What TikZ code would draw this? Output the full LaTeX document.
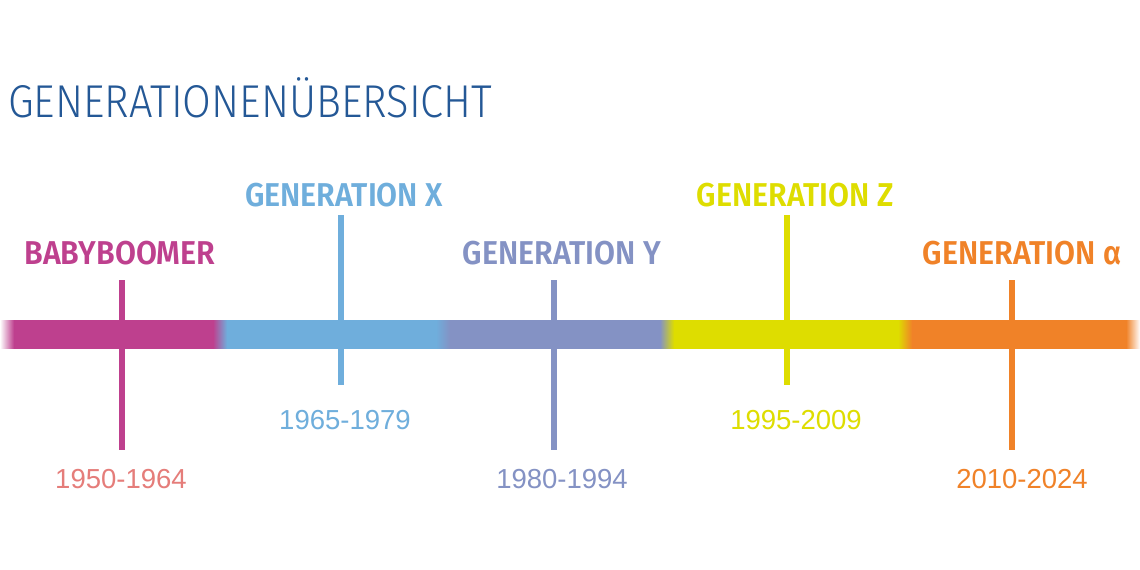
\documentclass[tikz,border=0pt]{standalone}
\usepackage{fontspec}
\setmainfont{Liberation Sans}
\newfontfamily\headfont[FakeStretch=0.92]{Fira Sans SemiBold}
\newfontfamily\titlefont[FakeStretch=0.905]{Fira Sans Light}

\definecolor{titleblue}{HTML}{245896}
\definecolor{boomer}{HTML}{BE408E}
\definecolor{genx}{HTML}{6FAEDC}
\definecolor{geny}{HTML}{8492C4}
\definecolor{genz}{HTML}{DEDD00}
\definecolor{gena}{HTML}{F08228}
\definecolor{salmon}{HTML}{E57D7A}

% bar shading: x in 0..1140 maps to 25..75bp
\pgfdeclarehorizontalshading{timebar}{100bp}{
	color(0bp)=(white); color(25bp)=(white);
	color(25.614bp)=(boomer); color(34.342bp)=(boomer);
	color(34.956bp)=(genx); color(44.123bp)=(genx);
	color(44.737bp)=(geny); color(53.947bp)=(geny);
	color(54.561bp)=(genz); color(64.386bp)=(genz);
	color(65bp)=(gena); color(74.386bp)=(gena);
	color(75bp)=(white); color(100bp)=(white)}

\tikzset{
	heading/.style={font=\titlefont\fontsize{46}{46}\selectfont, text=titleblue, anchor=base west, inner sep=0pt},
	genlabel/.style={font=\headfont\fontsize{33}{33}\selectfont, anchor=base, inner sep=0pt},
	yearlabel/.style={font=\fontsize{27.5}{27.5}\selectfont, anchor=base, inner sep=0pt},
	tick/.style={line width=6pt}
}

\begin{document}
\begin{tikzpicture}[x=1pt,y=-1pt]
	\newcommand\bartop{320};
	\newcommand\barbot{348};
	\useasboundingbox (0,0) rectangle (1140,570);
	\fill[white] (0,0) rectangle (1140,570);
	\node[heading] (title) at (8,117) {GENERATIONENÜBERSICHT};
	% colour bar
	\shade[shading=timebar] (0,\bartop) rectangle (1140,\barbot);
	% ticks
	\foreach \x/\ya/\yb/\col [count=\i] in {122/280/450/boomer, 341/215/385/genx, 554/280/450/geny, 787/215/385/genz, 1012/280/450/gena} {
		\coordinate (top\i) at (\x,\ya);
		\coordinate (bot\i) at (\x,\yb);
		\draw[tick,\col] (top\i) -- (bot\i);
	}
	% generation names
	\foreach \x/\y/\col/\txt [count=\i] in {120/264/boomer/BABYBOOMER, 344/206/genx/GENERATION X, 562/264/geny/GENERATION Y, 795/206/genz/GENERATION Z, 1022/264/gena/GENERATION α} {
		\node[genlabel,text=\col] (gen\i) at (\x,\y) {\txt};
	}
	% years
	\foreach \x/\y/\col/\txt [count=\i] in {121/488/salmon/1950-1964, 345/429/genx/1965-1979, 562/488/geny/1980-1994, 796/429/genz/1995-2009, 1022/488/gena/2010-2024} {
		\node[yearlabel,text=\col] (year\i) at (\x,\y) {\txt};
	}
\end{tikzpicture}
\end{document}
